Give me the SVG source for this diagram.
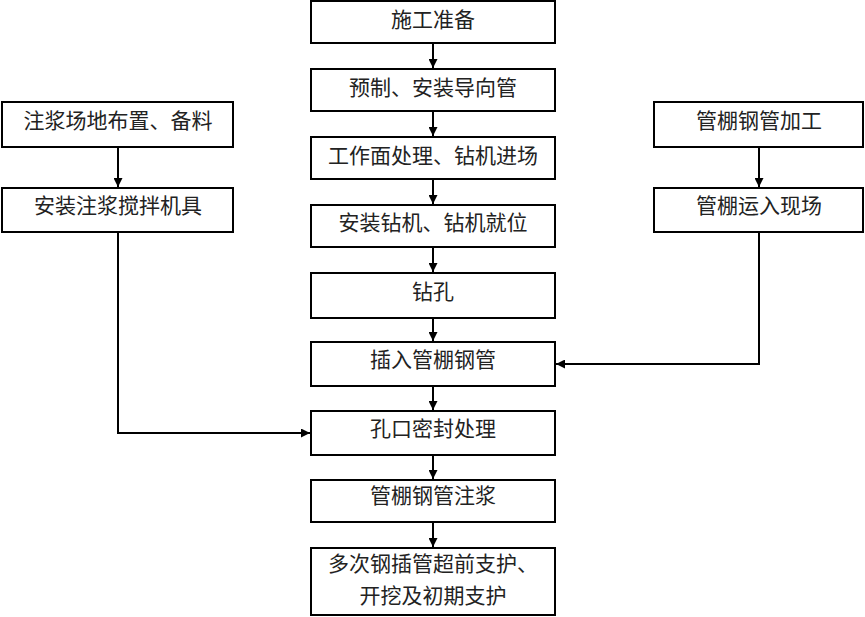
<svg xmlns="http://www.w3.org/2000/svg" width="865" height="617" viewBox="0 0 865 617">
<defs>
<style>
.box{fill:#fff;stroke:#000;stroke-width:2}
.t{font-family:"Liberation Serif","Noto Sans CJK SC",serif;font-size:21px;fill:#222;text-anchor:middle;dominant-baseline:central}
.c{fill:none;stroke:#000;stroke-width:2}
</style>
<marker id="ah" viewBox="0 0 10 10" refX="10" refY="5" markerWidth="9" markerHeight="9" markerUnits="userSpaceOnUse" orient="auto"><path d="M0,0 L10,5 L0,10 z" fill="#000"/></marker>
</defs>
<rect width="865" height="617" fill="#fff"/>
<g id="connectors">
<line class="c" x1="433" y1="43" x2="433" y2="68" marker-end="url(#ah)"/>
<line class="c" x1="433" y1="111" x2="433" y2="136" marker-end="url(#ah)"/>
<line class="c" x1="433" y1="179" x2="433" y2="204" marker-end="url(#ah)"/>
<line class="c" x1="433" y1="247" x2="433" y2="272" marker-end="url(#ah)"/>
<line class="c" x1="433" y1="318" x2="433" y2="341" marker-end="url(#ah)"/>
<line class="c" x1="433" y1="386" x2="433" y2="410" marker-end="url(#ah)"/>
<line class="c" x1="433" y1="455" x2="433" y2="479" marker-end="url(#ah)"/>
<line class="c" x1="433" y1="522" x2="433" y2="547" marker-end="url(#ah)"/>
<line class="c" x1="118" y1="147" x2="118" y2="187" marker-end="url(#ah)"/>
<polyline class="c" points="118,232 118,433 310,433" marker-end="url(#ah)"/>
<line class="c" x1="759" y1="147" x2="759" y2="187" marker-end="url(#ah)"/>
<polyline class="c" points="759,232 759,364 556,364" marker-end="url(#ah)"/>
</g>
<g id="n1"><rect class="box" x="311" y="1" width="244" height="42"/><text class="t" x="433" y="20">施工准备</text></g>
<g id="n2"><rect class="box" x="311" y="69" width="244" height="42"/><text class="t" x="433" y="88">预制、安装导向管</text></g>
<g id="n3"><rect class="box" x="311" y="137" width="244" height="42"/><text class="t" x="433" y="156">工作面处理、钻机进场</text></g>
<g id="n4"><rect class="box" x="311" y="205" width="244" height="42"/><text class="t" x="433" y="223">安装钻机、钻机就位</text></g>
<g id="n5"><rect class="box" x="311" y="273" width="244" height="45"/><text class="t" x="433" y="292">钻孔</text></g>
<g id="n6"><rect class="box" x="311" y="342" width="244" height="44"/><text class="t" x="433" y="360">插入管棚钢管</text></g>
<g id="n7"><rect class="box" x="311" y="411" width="244" height="44"/><text class="t" x="433" y="429">孔口密封处理</text></g>
<g id="n8"><rect class="box" x="311" y="480" width="244" height="42"/><text class="t" x="433" y="496">管棚钢管注浆</text></g>
<g id="n9"><rect class="box" x="311" y="548" width="244" height="67"/><text class="t" x="433" y="564">多次钢插管超前支护、</text><text class="t" x="433" y="596">开挖及初期支护</text></g>
<g id="l1"><rect class="box" x="2" y="102" width="231" height="45"/><text class="t" x="118" y="121">注浆场地布置、备料</text></g>
<g id="l2"><rect class="box" x="2" y="188" width="231" height="44"/><text class="t" x="118" y="206">安装注浆搅拌机具</text></g>
<g id="r1"><rect class="box" x="654" y="102" width="209" height="45"/><text class="t" x="759" y="121">管棚钢管加工</text></g>
<g id="r2"><rect class="box" x="654" y="188" width="209" height="44"/><text class="t" x="759" y="206">管棚运入现场</text></g>
</svg>
